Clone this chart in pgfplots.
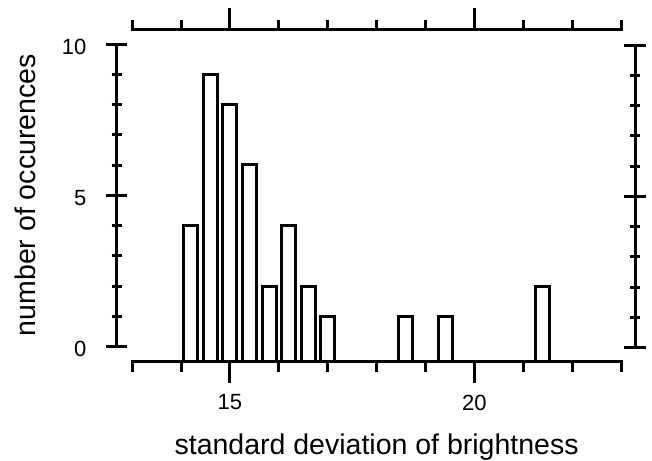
\documentclass[border=0pt]{standalone}
\usepackage{fontspec}
\setmainfont{Liberation Sans}
\usepackage{pgfplots}
\pgfplotsset{compat=1.18}
\begin{document}
\begin{tikzpicture}
\useasboundingbox (0,0) rectangle (652pt,-460pt);
\pgfplotsset{
  myaxis/.style={
    scale only axis,
    /pgf/number format/assume math mode=true,
    every tick/.style={black, line width=3pt},
    tick align=outside,
    major tick length=21.5pt,
    minor tick length=10pt,
  },
  fixlines/.style={
    axis line style={-, black, line width=3pt, line cap=rect},
    x axis line style={-},
    y axis line style={-},
    every outer x axis line/.append style={-},
    every outer y axis line/.append style={-},
    every inner x axis line/.append style={-},
    every inner y axis line/.append style={-},
  },
}
% bars and the two horizontal axes
\begin{axis}[myaxis,
  at={(132.2pt,-361.7pt)}, anchor=south west,
  width=488.8pt, height=331.7pt,
  xmin=13, xmax=23, ymin=0, ymax=10.965,
  axis x line=box, axis y line=none,
  fixlines,
  xtick pos=both, xticklabel pos=lower,
  xtick={15,20}, minor xtick={13,14,16,17,18,19,21,22,23},
  xticklabel style={yshift=-8pt, font=\fontsize{22}{26}\selectfont, black},
  clip=false,
  y filter/.expression={y+0.5025},
  xlabel={standard deviation of brightness},
  xlabel style={at={(axis description cs:0.5,-0.2783)}, anchor=base, font=\fontsize{28.5}{34}\selectfont, black},
]
\addplot[ybar, bar width=14pt, draw=black, fill=white, line width=3pt] table {
x y
14.2 4
14.6 9
15.0 8
15.4 6
15.8 2
16.2 4
16.6 2
17.0 1
18.6 1
19.4 1
21.4 2
};
\end{axis}
% left axis
\begin{axis}[myaxis,
  at={(116.7pt,-346.5pt)}, anchor=south west,
  width=1pt, height=302.5pt,
  xmin=0, xmax=1, ymin=0, ymax=10,
  axis y line=left, axis x line=none,
  fixlines,
  ytick={0,5,10}, minor ytick={1,2,3,4,6,7,8,9},
  yticklabel style={xshift=-16pt, yshift=-2.5pt, font=\fontsize{22}{26}\selectfont, black},
  ylabel={number of occurences},
  ylabel style={at={(axis description cs:-81.7,0.5)}, anchor=base, font=\fontsize{28.5}{34}\selectfont, black},
]
\end{axis}
% right axis
\begin{axis}[myaxis,
  at={(635pt,-347.5pt)}, anchor=south east,
  width=1pt, height=302.5pt,
  xmin=0, xmax=1, ymin=0, ymax=10,
  axis y line=right, axis x line=none,
  fixlines,
  ytick={0,5,10}, minor ytick={1,2,3,4,6,7,8,9},
  yticklabels={},
]
\end{axis}
\end{tikzpicture}
\end{document}
